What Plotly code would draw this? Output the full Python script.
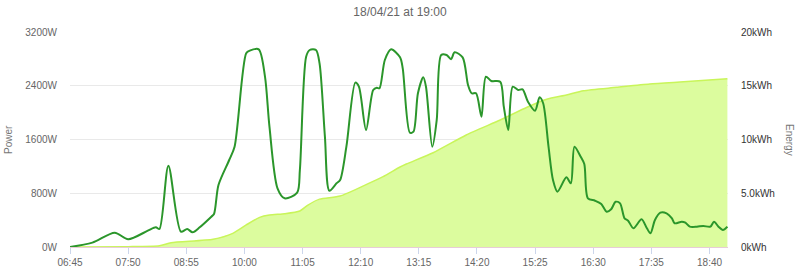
import plotly.graph_objects as go

DAY = "2021-04-18 "

power_times = ["06:45","07:10","07:35","07:50","08:12","08:21","08:25","08:35","08:49","08:56",
               "09:02","09:10","09:23","09:26","09:31","09:43","09:49","10:02","10:06","10:16",
               "10:23","10:28","10:37","10:45","10:59","11:02","11:09","11:13","11:20","11:24",
               "11:30","11:35","11:43","11:47","11:54","12:04","12:08","12:16","12:24","12:28",
               "12:31","12:37","12:44","12:54","12:57","13:05","13:09","13:14","13:20","13:23",
               "13:30","13:35","13:40","13:46","13:51","13:55","14:04","14:10","14:14","14:19",
               "14:25","14:30","14:36","14:46","14:50","14:55","15:00","15:06","15:11","15:17",
               "15:25","15:30","15:34","15:40","15:45","15:50","16:00","16:05","16:09","16:16",
               "16:20","16:24","16:32","16:39","16:45","16:50","16:55","17:00","17:05","17:09",
               "17:15","17:24","17:30","17:34","17:39","17:45","17:52","17:58","18:01","18:09",
               "18:13","18:18","18:26","18:33","18:41","18:45","18:50","18:55","19:00"]
power_w = [0,65,213,115,243,293,268,1210,228,268,
           219,293,451,491,923,1295,1493,2883,2922,2942,
           2535,1790,873,725,808,1146,2832,2932,2932,2734,
           1642,838,948,997,1493,2446,2386,1741,2337,2371,
           2362,2783,2942,2823,2659,1701,1716,2288,2526,2386,
           1493,1890,2858,2858,2794,2898,2823,2411,2288,2288,
           1939,2535,2471,2460,2088,1741,2386,2337,2347,2163,
           2029,2228,2139,1493,997,823,1037,948,1493,1344,
           1235,725,689,640,525,561,674,650,427,391,
           278,412,278,204,402,511,501,427,353,377,
           362,303,303,313,303,377,303,253,303]

energy_times = ["06:45","07:50","08:25","08:38","09:25","09:47","10:02","10:17","10:28","10:45",
                "11:02","11:11","11:24","11:47","12:16","12:35","12:54","13:01","13:31","14:08",
                "14:46","15:16","15:38","16:00","16:19","16:56","17:33","18:11","19:00"]
energy_kwh = [0,0.03,0.12,0.4,0.72,1.27,2.05,2.76,2.98,3.1,
              3.35,3.9,4.45,4.74,5.8,6.54,7.44,7.72,8.77,10.42,
              11.81,13.0,13.74,14.14,14.54,14.85,15.16,15.37,15.65]

power_ticks = [0, 800, 1600, 2400, 3200]
power_labels = ["0W", "800W", "1600W", "2400W", "3200W"]
energy_ticks = [0, 5, 10, 15, 20]
energy_labels = ["0kWh", "5.0kWh", "10kWh", "15kWh", "20kWh"]

title_text = "18/04/21 at 19:00"

FONT = "Liberation Sans, Arial, sans-serif"

fig = go.Figure()
fig.add_trace(go.Scatter(
    x=[DAY + t for t in energy_times], y=energy_kwh, yaxis="y",
    mode="lines", line=dict(color="#c9f55a", width=1.5, shape="spline", smoothing=0.6),
    fill="tozeroy", fillcolor="#dcfc9e", name="Energy", hoverinfo="skip"))
fig.add_trace(go.Scatter(
    x=[DAY + t for t in power_times], y=power_w, yaxis="y2",
    mode="lines", line=dict(color="#2b962b", width=2, shape="spline", smoothing=0.8),
    name="Power", hoverinfo="skip"))

fig.update_layout(
    width=800, height=277,
    margin=dict(l=70, r=72, t=32, b=30, autoexpand=False),
    paper_bgcolor="white", plot_bgcolor="white",
    showlegend=False,
    font=dict(family=FONT, size=10, color="#666666"),
    title=dict(text=title_text, x=0.5, xanchor="center", y=1 - 12/277, yanchor="middle",
               font=dict(family=FONT, size=12, color="#666666")),
    xaxis=dict(
        type="date", automargin=False,
        range=[DAY + "06:45", DAY + "19:00:40"],
        tick0=DAY + "06:45", dtick=65*60*1000, tickformat="%H:%M",
        showgrid=False, zeroline=False,
        showline=True, linecolor="#e8ccd6", linewidth=1,
        ticks="outside", ticklen=6, tickcolor="#ccd6eb",
        tickfont=dict(size=10, color="#666666"),
    ),
    yaxis=dict(
        side="right", range=[0, 20], tickvals=energy_ticks, ticktext=energy_labels,
        automargin=False,
        showgrid=True, gridcolor="#e9e9e9", zeroline=False,
        tickfont=dict(size=10, color="#333333"), ticklabelstandoff=12,
    ),
    yaxis2=dict(
        overlaying="y", side="left", range=[0, 3200], tickvals=power_ticks, ticktext=power_labels,
        automargin=False,
        showgrid=False, zeroline=False,
        tickfont=dict(size=10, color="#666666"), ticklabelstandoff=12,
    ),
)

pw = 800 - 70 - 72
ph = 277 - 32 - 30
def px2paper(px, py):
    return (px - 70) / pw, (277 - 30 - py) / ph

ax, ay = px2paper(8, 140)
bx, by = px2paper(790, 140)
fig.add_annotation(text="Power", x=ax, y=ay, xref="paper", yref="paper", showarrow=False,
                   textangle=-90, xanchor="center", yanchor="middle",
                   font=dict(size=10, color="#777777"))
fig.add_annotation(text="Energy", x=bx, y=by, xref="paper", yref="paper", showarrow=False,
                   textangle=90, xanchor="center", yanchor="middle",
                   font=dict(size=10, color="#777777"))

fig.write_html("out.html")
